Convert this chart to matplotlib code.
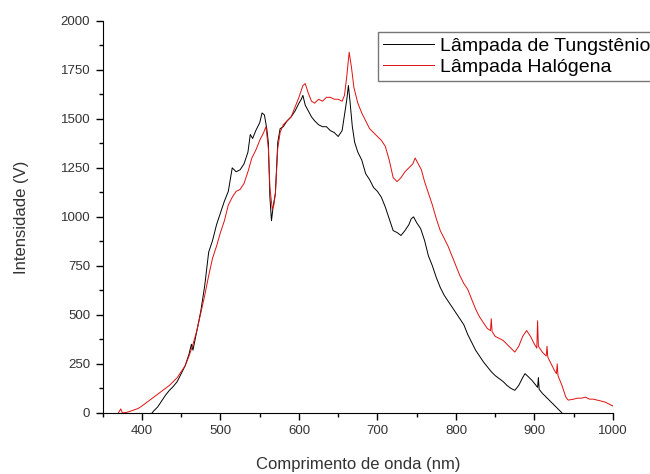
import matplotlib.pyplot as plt
from matplotlib.ticker import MultipleLocator

plt.rcParams['font.family'] = ['Liberation Sans', 'DejaVu Sans']

# Lâmpada Halógena (red)
hal_nm = [370, 373, 375, 380, 385, 390, 395, 400, 405, 410, 415, 420, 425, 430, 435, 440,
          445, 450, 455, 460, 465, 470, 475, 480, 485, 490, 495, 500, 505, 510, 515, 520,
          525, 530, 535, 540, 545, 550, 555, 558, 561, 563, 566, 568, 570, 573, 576, 580,
          585, 590, 595, 600, 605, 608, 612, 616, 620, 625, 630, 635, 640, 645, 650, 655,
          658, 661, 664, 667, 670, 675, 680, 685, 690, 695, 700, 705, 710, 715, 720, 725,
          730, 735, 740, 745, 748, 752, 756, 760, 765, 770, 775, 780, 785, 790, 795, 800,
          805, 810, 815, 820, 825, 830, 835, 840, 844, 845, 846, 850, 855, 860, 865, 870,
          875, 880, 885, 890, 895, 900, 903, 904, 905, 910, 915, 916, 917, 920, 925, 928,
          929, 930, 935, 940, 943, 950, 955, 960, 965, 970, 975, 980, 985, 990, 995, 1000]
hal_v = [0, 20, 0, 2, 8, 15, 22, 35, 50, 65, 80, 95, 110, 125, 140, 160,
         180, 210, 240, 290, 350, 420, 510, 600, 700, 790, 850, 920, 980, 1060, 1100, 1130,
         1140, 1170, 1230, 1300, 1340, 1390, 1430, 1460, 1350, 1150, 1040, 1060, 1120, 1350, 1430, 1470,
         1490, 1510, 1560, 1610, 1670, 1680, 1630, 1590, 1580, 1600, 1590, 1610, 1610, 1600, 1600, 1590,
         1620, 1720, 1840, 1760, 1660, 1580, 1530, 1490, 1450, 1430, 1410, 1390, 1360, 1290, 1200, 1180,
         1200, 1230, 1250, 1270, 1300, 1270, 1240, 1180, 1120, 1060, 990, 930, 890, 850, 800, 750,
         700, 660, 630, 580, 530, 490, 460, 430, 420, 480, 415, 390, 380, 370, 350, 330,
         310, 340, 390, 420, 390, 350, 330, 470, 340, 310, 290, 340, 285, 260, 220, 200,
         250, 190, 140, 80, 65, 70, 75, 75, 80, 70, 70, 65, 60, 55, 45, 35]

# Lâmpada de Tungstênio (black)
tun_nm = [413, 415, 420, 425, 430, 435, 440, 445, 450, 455, 460, 463, 465, 470, 475, 480,
          485, 490, 495, 500, 505, 510, 515, 520, 525, 530, 535, 538, 541, 545, 550, 553,
          556, 559, 561, 563, 565, 567, 570, 573, 576, 580, 585, 590, 595, 600, 603, 605,
          608, 612, 616, 620, 625, 630, 635, 640, 645, 650, 655, 658, 661, 663, 665, 668,
          671, 675, 680, 685, 690, 695, 700, 705, 710, 715, 720, 725, 730, 735, 740, 743,
          746, 750, 755, 760, 765, 770, 775, 780, 785, 790, 795, 800, 805, 810, 815, 820,
          825, 830, 835, 840, 845, 850, 855, 860, 865, 870, 875, 880, 885, 888, 892, 897,
          900, 904, 905, 906, 910, 915, 920, 925, 930, 935]
tun_v = [0, 10, 30, 60, 90, 115, 135, 160, 200, 240, 300, 350, 320, 420, 520, 650,
         820, 880, 960, 1020, 1080, 1130, 1250, 1230, 1240, 1270, 1330, 1420, 1400, 1440, 1480, 1530,
         1520, 1450, 1380, 1100, 980, 1050, 1120, 1380, 1450, 1460, 1490, 1510, 1540, 1580, 1600, 1620,
         1570, 1540, 1510, 1490, 1470, 1460, 1460, 1440, 1430, 1410, 1440, 1520, 1600, 1670, 1590, 1460,
         1380, 1330, 1290, 1220, 1190, 1150, 1130, 1100, 1050, 990, 930, 920, 905, 930, 960, 990,
         1000, 970, 940, 880, 800, 750, 690, 640, 600, 570, 540, 510, 480, 450, 400, 360,
         320, 290, 260, 235, 210, 190, 175, 160, 140, 125, 115, 140, 180, 200, 185, 165,
         150, 130, 180, 120, 100, 80, 60, 40, 20, 0]

fig = plt.figure(figsize=(6.5, 4.74), dpi=100)
ax = fig.add_axes([0.158, 0.129, 0.785, 0.827])

ax.plot(tun_nm, tun_v, color='black', lw=0.7, label='Lâmpada de Tungstênio')
ax.plot(hal_nm, hal_v, color='#e01010', lw=0.7, label='Lâmpada Halógena')

ax.set_xlim(350, 1000)
ax.set_ylim(0, 2000)
ax.xaxis.set_major_locator(MultipleLocator(100))
ax.xaxis.set_minor_locator(MultipleLocator(50))
ax.yaxis.set_major_locator(MultipleLocator(250))
ax.yaxis.set_minor_locator(MultipleLocator(125))
ax.tick_params(which='major', direction='out', length=5, width=1, labelsize=9.5,
               labelcolor='#333333', pad=4)
ax.tick_params(which='minor', direction='out', length=3, width=1)

for s in ['top', 'right']:
    ax.spines[s].set_visible(False)

ax.set_xlabel('Comprimento de onda (nm)', fontsize=12, color='#333333', labelpad=14)
ax.set_ylabel('Intensidade (V)', fontsize=12, color='#333333', labelpad=23)

leg = ax.legend(loc='upper left', bbox_to_anchor=(0.582, 0.932), bbox_transform=fig.transFigure,
                fontsize=14, frameon=True, fancybox=False, borderpad=0.25, labelspacing=0.2,
                handlelength=2.6, handletextpad=0.3, borderaxespad=0)
leg.get_frame().set_edgecolor('#555555')
leg.get_frame().set_linewidth(1.0)

fig.savefig('out.png', dpi=100)
